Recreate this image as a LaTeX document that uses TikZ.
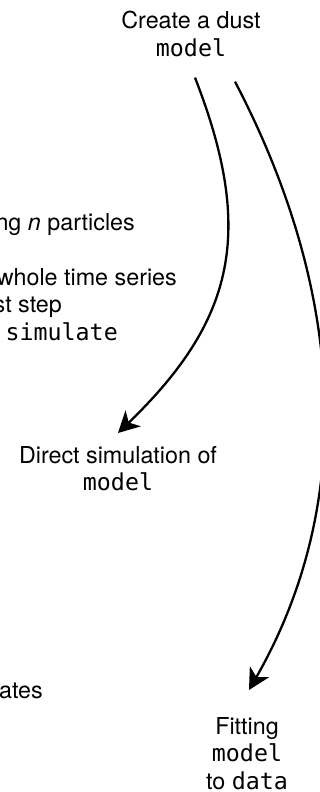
\documentclass[tikz,border=0pt]{standalone}
\usepackage{fontspec}
\setmainfont{TeX Gyre Heros}
\setmonofont{DejaVu Sans Mono}
\usetikzlibrary{arrows.meta,calc}
\begin{document}
\begin{tikzpicture}[x=1pt,y=-1pt,
  lbl/.style={inner sep=0pt, align=center, font=\fontsize{23.3}{27.5}\selectfont},
  side/.style={inner sep=0pt, anchor=base east, font=\fontsize{23.3}{27.5}\selectfont},
  flow/.style={line width=2.3pt, -{Stealth[length=21pt,width=22pt,inset=6pt]}}]
\useasboundingbox (0,0) rectangle (320,792);
\fill[white] (0,0) rectangle (320,792);
\clip (0,0) rectangle (320,792);

% workflow steps
\node[lbl, anchor=north] (create) at (191,11) {Create a dust\\\texttt{model}};
\node[lbl, anchor=north] (direct) at (118,446) {Direct simulation of\\\texttt{model}};
\node[lbl, anchor=north] (fit) at (247,717) {Fitting\\\texttt{model}\\to \texttt{data}};

% notes running in from the left
\node[side] (particles) at (135,230) {ng \textit{n} particles};
\node[side] (series) at (177,285) {whole time series};
\node[side] (step) at (62,312) {st step};
\node[side] (simcall) at (118,340) {\texttt{simulate}};
\node[side] (rates) at (43,698) {ates};

% connectors
\draw[flow] ($(create.south)+(4,21)$) .. controls +(60,154) and +(117,-113) .. ($(direct.north)+(0,-13)$);
\draw[flow] ($(create.south)+(44,25)$) .. controls +(115,220) and +(103,-180) .. ($(fit.north)+(2,-27)$);
\end{tikzpicture}
\end{document}
